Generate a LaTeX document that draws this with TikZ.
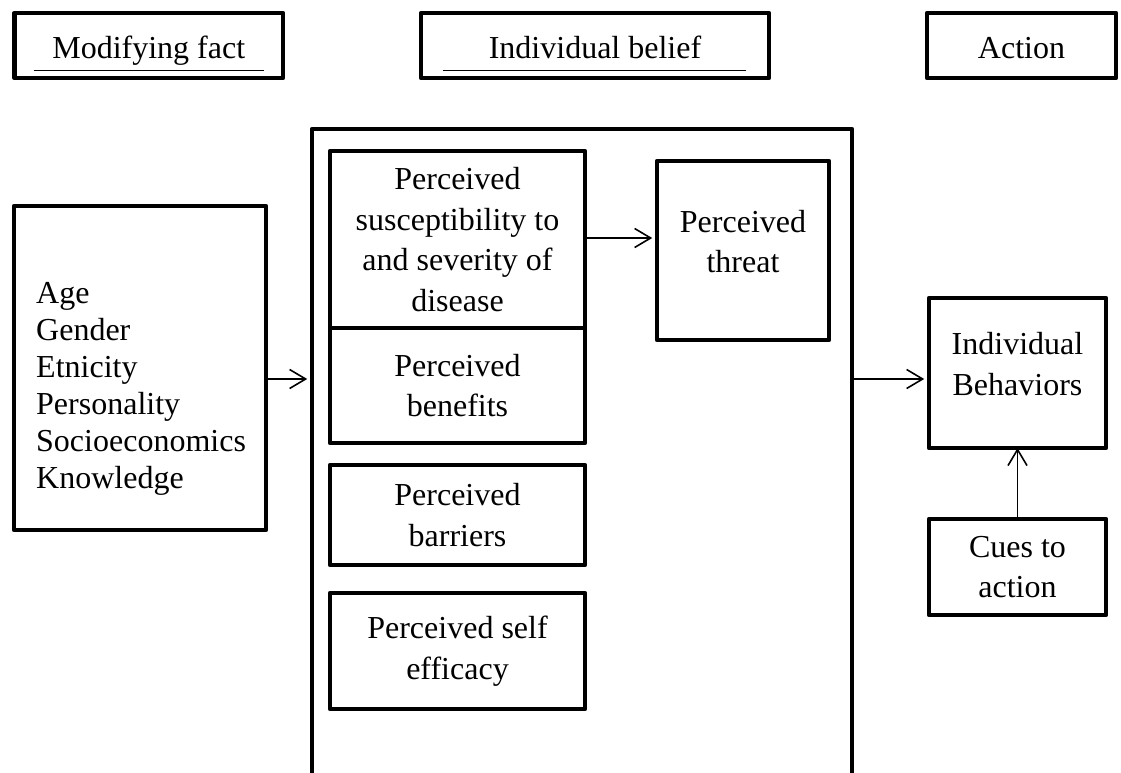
\documentclass[tikz,border=0pt]{standalone}
\usepackage{fontspec}
\setmainfont{Liberation Serif}
\usetikzlibrary{arrows.meta}
\newcommand{\lowpad}{\rule[-18pt]{0pt}{0pt}}
\begin{document}
\begin{tikzpicture}[x=1pt,y=-1pt,
  box/.style={draw, line width=4.8pt, line join=round, inner sep=0pt, align=center,
    font=\fontsize{32}{40.5}\selectfont},
  hdr/.style={box, text height=27pt, text depth=0pt, minimum height=65pt},
  listtext/.style={inner sep=0pt, align=left, font=\fontsize{32}{37}\selectfont},
  uline/.style={line width=1.3pt},
  arr/.style={line width=1.6pt, -{Straight Barb[length=16pt,width=19pt]}}]
\useasboundingbox (0,0) rectangle (1121,773);
\clip (0,0) rectangle (1121,773);
% headers
\node[hdr, minimum width=268.5pt] (h1) at (148.75,45.5) {Modifying fact};
\node[hdr, minimum width=348pt] (h2) at (595,45.5) {Individual belief};
\node[hdr, minimum width=189pt] (h3) at (1021.5,45.5) {Action};
\draw[uline] ([shift={(21.5,-10)}]h1.south west) -- ([shift={(-21,-10)}]h1.south east);
\draw[uline] ([shift={(24,-10)}]h2.south west) -- ([shift={(-25,-10)}]h2.south east);
% big frame
\node[box, minimum width=540pt, minimum height=691pt] (big) at (582,474.5) {};
% left box
\node[box, minimum width=252pt, minimum height=324pt] (mod) at (140,368) {};
\node[listtext, anchor=north west] (modtxt) at (36,282)
  {Age\\Gender\\Etnicity\\Personality\\Socioeconomics\\Knowledge};
% inner boxes
\node[box, minimum width=255pt, minimum height=177pt] (sus) at (457.5,239.5)
  {Perceived\\susceptibility to\\and severity of\\disease};
\node[box, minimum width=255pt, minimum height=115pt] (ben) at (457.5,385.5)
  {Perceived\\benefits};
\node[box, minimum width=255pt, minimum height=100pt] (bar) at (457.5,515)
  {Perceived\\barriers};
\node[box, minimum width=255pt, minimum height=116pt] (eff) at (457.5,651)
  {Perceived self\\efficacy};
\node[box, minimum width=172pt, minimum height=179pt] (thr) at (743,250.5)
  {Perceived\\threat\lowpad};
% action side
\node[box, minimum width=177pt, minimum height=150pt] (beh) at (1017.5,373)
  {Individual\\Behaviors\lowpad};
\node[box, minimum width=177pt, minimum height=96pt] (cue) at (1017.5,567)
  {Cues to\\action};
% connectors
\coordinate (ya) at (0,379);
\draw[arr] (mod.east |- ya) -- ([xshift=-2.4pt]big.west |- ya);
\draw[arr] (sus.east |- 0,238) -- ([xshift=-2.4pt]thr.west |- 0,238);
\draw[arr] (big.east |- ya) -- ([xshift=-2.4pt]beh.west |- ya);
\draw[arr] (cue.north) -- ([yshift=2.4pt]beh.south);
\end{tikzpicture}
\end{document}
